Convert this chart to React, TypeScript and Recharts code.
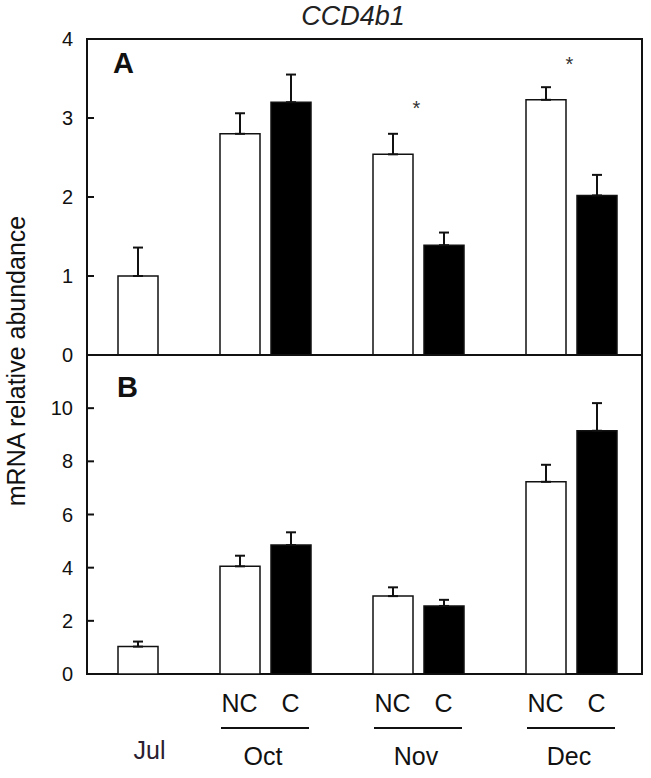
import React from 'react';
import { BarChart, Bar, Cell, XAxis, YAxis, ErrorBar, ReferenceDot, ReferenceArea } from 'recharts';

// one slot per bar position; the s* slots are the empty gaps between months
const slots = ['Jul', 's1', 'OctNC', 'OctC', 's2', 'NovNC', 'NovC', 's3', 'DecNC', 'DecC'];
const treatment = ['NC', '', 'NC', 'C', '', 'NC', 'C', '', 'NC', 'C'];
const tickLabels = ['', '', 'NC', 'C', '', 'NC', 'C', '', 'NC', 'C'];
const monthLabels = ['Jul', '', 'Oct', '', '', 'Nov', '', '', 'Dec', ''];

// panel A
const valuesA = [1.0, null, 2.8, 3.2, null, 2.54, 1.39, null, 3.23, 2.02];
const errA = [0.36, null, 0.26, 0.35, null, 0.26, 0.16, null, 0.16, 0.26];
const ticksA = [0, 1, 2, 3, 4];
const sigSlotsA = ['NovNC', 'DecNC'];
const sigYA = [3.18, 3.73];

// panel B
const valuesB = [1.03, null, 4.05, 4.85, null, 2.93, 2.56, null, 7.23, 9.15];
const errB = [0.19, null, 0.4, 0.48, null, 0.33, 0.23, null, 0.64, 1.04];
const ticksB = [0, 2, 4, 6, 8, 10];

const FONT = '"Liberation Sans", Arial, sans-serif';
const INK = '#111';
const PAD_L = 25;
const PAD_R = 20;

const build = (vals: (number | null)[], errs: (number | null)[]) =>
  slots.map((s, i) => ({
    slot: s,
    value: vals[i],
    err: errs[i] == null ? null : [0, errs[i]],
  }));

const dataA = build(valuesA, errA);
const dataB = build(valuesB, errB);

function YTick(props: any) {
  const { x, y, payload } = props;
  return (
    <g>
      <path d={`M${x},${y}h7`} style={{ stroke: INK, strokeWidth: 2, fill: 'none' }} />
      <text x={x - 14} y={y + 7} textAnchor="end" fontSize={20} fontFamily={FONT} style={{ fill: INK, stroke: 'none' }}>
        {payload.value}
      </text>
    </g>
  );
}

function XTick(props: any) {
  const { x, y, payload } = props;
  const i = payload.index;
  const t = tickLabels[i];
  const m = monthLabels[i];
  const half = 25.5;
  return (
    <g fontFamily={FONT}>
      {t && (
        <text x={x} y={y + 38} textAnchor="middle" fontSize={25} style={{ fill: INK, stroke: 'none' }}>
          {t}
        </text>
      )}
      {m && t && (
        <g>
          <path d={`M${x + half - 44},${y + 54}h88`} style={{ stroke: INK, strokeWidth: 2 }} />
          <text x={x + half - 2} y={y + 91} textAnchor="middle" fontSize={25} style={{ fill: INK, stroke: 'none' }}>
            {m}
          </text>
        </g>
      )}
      {m && !t && (
        <text x={x + 12} y={y + 85} textAnchor="middle" fontSize={25} style={{ fill: '#2a2030', stroke: 'none' }}>
          {m}
        </text>
      )}
    </g>
  );
}

function Star(props: any) {
  const { cx, cy } = props;
  return (
    <text x={cx + 24} y={cy + 11} textAnchor="middle" fontSize={20} fontFamily={FONT} fill="#333">
      *
    </text>
  );
}

// the area spans the padded band range, so widen it back to the full plot box
function Frame(props: any) {
  const { x, y, width, height } = props;
  const w = width + PAD_L + PAD_R;
  return (
    <path
      d={`M${x - PAD_L},${y}h${w}v${height}h${-w}Z`}
      style={{ stroke: INK, strokeWidth: 2, fill: 'none' }}
    />
  );
}

function Panel({ data, domain, ticks, height, margin, xHeight, showX, stars }: any) {
  return (
    <BarChart width={651} height={height} data={data} margin={margin}>
      <XAxis
        xAxisId="b"
        dataKey="slot"
        padding={{ left: PAD_L, right: PAD_R }}
        height={xHeight}
        stroke={INK}
        axisLine={false}
        tickLine={false}
        tickSize={0}
        tickMargin={0}
        interval={0}
        tick={showX ? <XTick /> : false}
      />
      <YAxis
        yAxisId="l"
        width={87}
        domain={domain}
        ticks={ticks}
        allowDataOverflow
        stroke={INK}
        axisLine={false}
        tickLine={false}
        tickSize={0}
        tickMargin={0}
        tick={<YTick />}
      />
      <Bar xAxisId="b" yAxisId="l" dataKey="value" barSize={40} stroke={INK} strokeWidth={1.5} isAnimationActive={false}>
        {data.map((d: any, i: number) => (
          <Cell key={d.slot} fill={treatment[i] === 'C' ? '#000' : '#fff'} />
        ))}
        <ErrorBar dataKey="err" width={5} stroke={INK} strokeWidth={2} direction="y" isAnimationActive={false} />
      </Bar>
      <ReferenceArea
        xAxisId="b"
        yAxisId="l"
        y1={domain[0]}
        y2={domain[1]}
        ifOverflow="visible"
        shape={<Frame />}
      />
      {stars &&
        stars.map((s: any) => (
          <ReferenceDot key={s.slot} xAxisId="b" yAxisId="l" x={s.slot} y={s.y} shape={<Star />} ifOverflow="visible" />
        ))}
    </BarChart>
  );
}

export default function App() {
  const starsA = sigSlotsA.map((s, i) => ({ slot: s, y: sigYA[i] }));
  return (
    <div style={{ position: 'absolute', left: 0, top: 0, width: 651, height: 778, background: '#fff' }}>
      <div style={{ position: 'absolute', left: 0, top: 0 }}>
        <Panel
          data={dataA}
          domain={[0, 4]}
          ticks={ticksA}
          height={370}
          margin={{ top: 39, right: 9, left: 0, bottom: 15 }}
          xHeight={0}
          showX={false}
          stars={starsA}
        />
      </div>
      <div style={{ position: 'absolute', left: 0, top: 340 }}>
        <Panel
          data={dataB}
          domain={[0, 12]}
          ticks={ticksB}
          height={438}
          margin={{ top: 15, right: 9, left: 0, bottom: 4 }}
          xHeight={100}
          showX={true}
        />
      </div>
      <svg
        width={651}
        height={778}
        style={{ position: 'absolute', left: 0, top: 0, pointerEvents: 'none' }}
        fontFamily={FONT}
      >
        <text x={353} y={25} textAnchor="middle" fontSize={27} fontStyle="italic" fill="#222">
          CCD4b1
        </text>
        <text x={113} y={73} fontSize={29} fontWeight="bold" fill={INK}>
          A
        </text>
        <text x={117} y={397} fontSize={29} fontWeight="bold" fill={INK}>
          B
        </text>
        <text
          x={0}
          y={0}
          transform="translate(25 361) rotate(-90)"
          textAnchor="middle"
          fontSize={25}
          fill={INK}
        >
          mRNA relative abundance
        </text>
      </svg>
    </div>
  );
}
